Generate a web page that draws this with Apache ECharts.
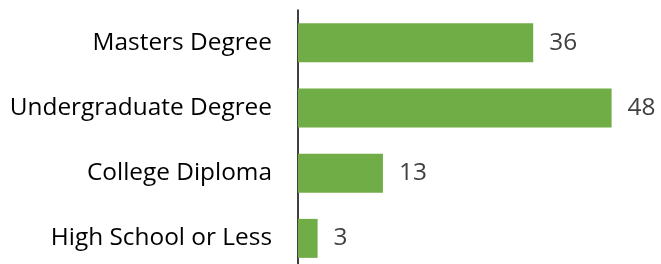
<!DOCTYPE html>
<html>
<head>
<meta charset="utf-8">
<script src="https://cdn.jsdelivr.net/npm/echarts@6/dist/echarts.min.js"></script>
<style>
  html, body { margin: 0; padding: 0; background: #fff; }
  #chart { width: 661px; height: 264px; }
</style>
</head>
<body>
<div id="chart"></div>
<script>
// education levels, top to bottom
const categories = ['Masters Degree', 'Undergraduate Degree', 'College Diploma', 'High School or Less'];
const values = [36, 48, 13, 3];

const chart = echarts.init(document.getElementById('chart'), null, { renderer: 'canvas' });

const option = {
    backgroundColor: '#ffffff',
    animation: false,
    grid: {
        left: 298,
        top: 10,
        width: 392,
        height: 261,
        outerBoundsMode: 'none'
    },
    xAxis: {
        type: 'value',
        min: 0,
        max: 60,
        show: false
    },
    yAxis: {
        type: 'category',
        data: categories,
        inverse: true,
        axisLine: { show: true, lineStyle: { color: '#000000', width: 1.5 } },
        axisTick: { show: false },
        axisLabel: {
            margin: 26,
            color: '#000000',
            fontFamily: 'Open Sans',
            fontSize: 24.4
        }
    },
    series: [{
        type: 'bar',
        data: values,
        barWidth: 39,
        itemStyle: { color: '#70ad47' },
        label: {
            show: true,
            position: 'right',
            distance: 16,
            color: '#404040',
            fontFamily: 'Open Sans',
            fontSize: 24.4
        }
    }]
};

chart.setOption(option);
</script>
</body>
</html>
